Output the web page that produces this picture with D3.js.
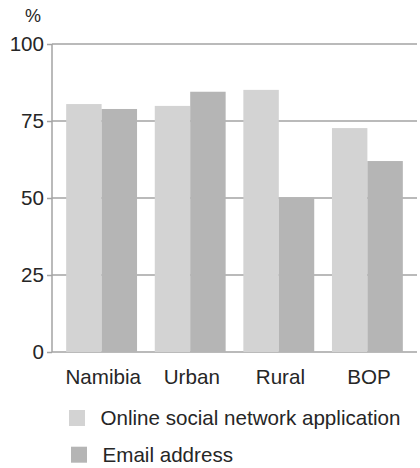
<!DOCTYPE html>
<html><head><meta charset="utf-8">
<script src="https://cdn.jsdelivr.net/npm/d3@7"></script>
<style>body{margin:0;background:#fff}svg{display:block;font-family:"Liberation Sans",Arial,sans-serif}</style>
</head><body>
<script>
const categories = ["Namibia", "Urban", "Rural", "BOP"];
const seriesNames = ["Online social network application", "Email address"];
const socialNetwork = [80.5, 79.9, 85.1, 72.7];
const emailAddress = [78.9, 84.5, 50.2, 62.0];
const yTicks = [0, 25, 50, 75, 100];
const colors = ["#d3d3d3", "#b5b5b5"];
const textColor = "#262626";
const fs = 20.6;

const W = 420, H = 468;
const svg = d3.select("body").append("svg").attr("width", W).attr("height", H);
const x = d3.scaleBand().domain(categories).range([52, 417]).paddingInner(0.2).paddingOuter(0.16);
const xs = d3.scaleBand().domain([0, 1]).range([0, x.bandwidth()]);
const y = d3.scaleLinear().domain([0, 100]).range([352, 44]);

// gridlines
svg.append("g").selectAll("line").data(yTicks).join("line")
  .attr("x1", 52).attr("x2", 417).attr("y1", d => y(d)).attr("y2", d => y(d))
  .attr("stroke", "#a3a3a3").attr("stroke-width", 1.5);

const series = [socialNetwork, emailAddress];
series.forEach((vals, si) => {
  svg.append("g").selectAll("rect").data(vals).join("rect")
    .attr("x", (d, i) => x(categories[i]) + xs(si))
    .attr("width", xs.bandwidth())
    .attr("y", d => y(d)).attr("height", d => y(0) - y(d))
    .attr("fill", colors[si]);
});

// y axis
const yAxis = d3.axisLeft(y).tickValues(yTicks).tickSize(5).tickPadding(3);
const ga = svg.append("g").attr("transform", "translate(52,0)").call(yAxis);
ga.select(".domain").attr("stroke", "#a3a3a3").attr("stroke-width", 1.5).attr("d", `M0,${y(100)}V${y(0)}`);
ga.selectAll(".tick line").attr("stroke", "#a3a3a3").attr("stroke-width", 1.5);
ga.selectAll(".tick text").attr("font-size", fs).attr("fill", textColor).attr("font-family", "Liberation Sans, Arial, sans-serif");

// x labels
svg.append("g").selectAll("text").data(categories).join("text")
  .attr("x", d => x(d) + x.bandwidth() / 2 + 1.6).attr("y", 384)
  .attr("text-anchor", "middle").attr("font-size", fs).attr("fill", textColor).text(d => d);

// unit label
svg.append("text").attr("x", 33).attr("y", 22).attr("text-anchor", "middle")
  .attr("font-size", 18).attr("fill", textColor).text("%");

// legend
const lg = svg.append("g").selectAll("g").data(seriesNames).join("g")
  .attr("transform", (d, i) => `translate(${69 + i * 2},${410 + i * 36.7})`);
lg.append("rect").attr("width", 16).attr("height", 16).attr("fill", (d, i) => colors[i]);
lg.append("text").attr("x", 31.5).attr("y", 15).attr("font-size", fs).attr("fill", textColor).text(d => d);
</script>
</body></html>
